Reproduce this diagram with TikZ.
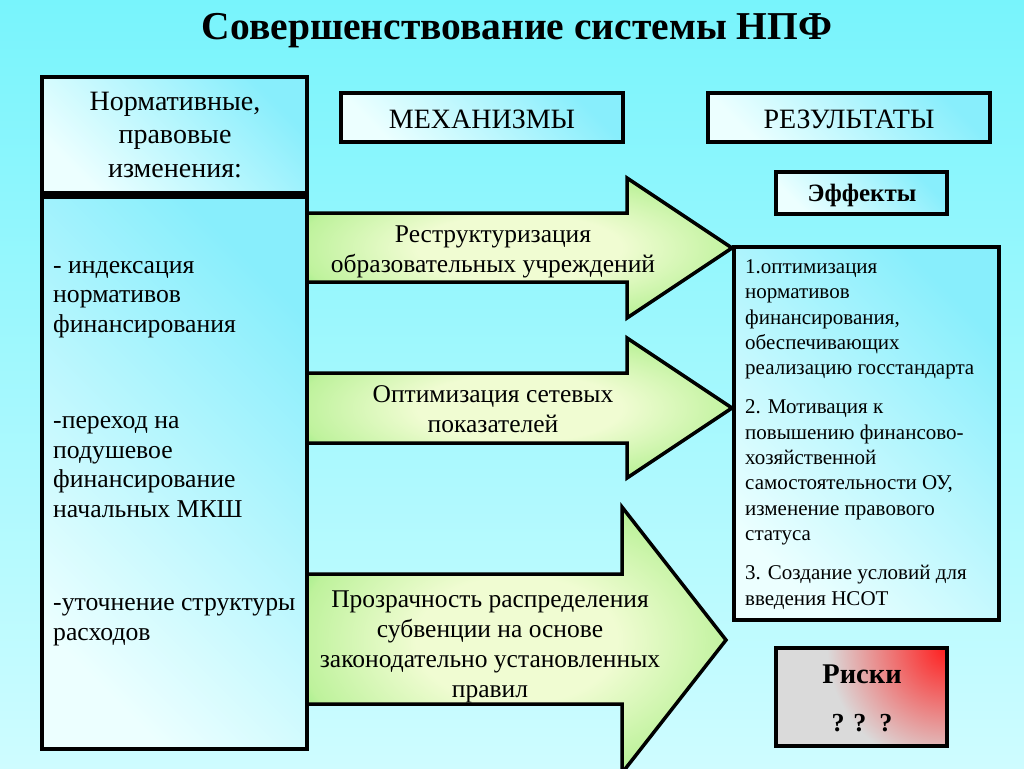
\documentclass[tikz,border=0pt]{standalone}
\usepackage{fontspec}
\setmainfont{Liberation Serif}
\usepackage{xcolor}

\definecolor{bgtop}{RGB}{120,244,252}
\definecolor{bgbot}{RGB}{206,252,255}
\definecolor{boxpale}{RGB}{236,255,255}
\definecolor{boxcyan}{RGB}{136,238,252}
\definecolor{arrpale}{RGB}{240,252,210}
\definecolor{arrmid}{RGB}{190,242,156}
\definecolor{arrgreen}{RGB}{84,228,84}
\definecolor{riskgray}{RGB}{218,218,218}
\definecolor{riskred}{RGB}{255,30,30}

\pgfdeclareradialshading{arrowglow}{\pgfpointorigin}{color(0bp)=(arrpale); color(12bp)=(arrpale); color(26bp)=(arrmid); color(36bp)=(arrgreen); color(50bp)=(arrgreen)}
\pgfdeclareradialshading{riskglow}{\pgfpointorigin}{color(0bp)=(riskred); color(15bp)=(riskgray); color(50bp)=(riskgray)}

\begin{document}
\begin{tikzpicture}[x=1pt,y=-1pt,
  frame/.style={draw=black,line width=3.5pt,left color=boxpale,right color=boxcyan,shading angle=135},
  arrowbody/.style={draw=black,line width=3.5pt,line join=miter,shade,shading=arrowglow},
  big/.style={font=\fontsize{25.5}{30}\selectfont,align=center,inner sep=0pt},
  small/.style={font=\fontsize{21}{25.3}\selectfont,align=left,inner sep=0pt}]
\useasboundingbox (0,0) rectangle (1024,768);
\shade[top color=bgtop,bottom color=bgbot] (0,0) rectangle (1024,768);

\node[font=\bfseries\fontsize{39.5}{46}\selectfont,anchor=base] (title) at (517,40) {Совершенствование системы НПФ};

% left column
\draw[frame] (42,77) rectangle (307,193);
\node[font=\fontsize{28}{33.5}\selectfont,align=center,inner sep=0pt,anchor=base] (norm) at (175,177)
  {Нормативные,\\правовые\\изменения:};

\draw[frame] (42,197) rectangle (307,749);
\node[font=\fontsize{25.7}{29.5}\selectfont,align=left,inner sep=0pt,anchor=base west] (changes) at (53,640)
  {- индексация\\нормативов\\финансирования\\[67pt]-переход на\\подушевое\\финансирование\\начальных МКШ\\[64pt]-уточнение структуры\\расходов};

% headers
\draw[frame] (341,93) rectangle (623,142);
\node[font=\fontsize{28}{32}\selectfont,inner sep=0pt,anchor=base] (mech) at (482,128) {МЕХАНИЗМЫ};
\draw[frame] (708,93) rectangle (990,142);
\node[font=\fontsize{28}{32}\selectfont,inner sep=0pt,anchor=base] (res) at (849,128) {РЕЗУЛЬТАТЫ};

% arrows
\draw[arrowbody] (307,213) -- (627,213) -- (627,178) -- (732,248) -- (627,318) -- (627,282) -- (307,282) -- cycle;
\node[big,anchor=base] (restr) at (493,272) {Реструктуризация\\образовательных учреждений};

\draw[arrowbody] (307,373) -- (627,373) -- (627,338) -- (732,408) -- (627,478) -- (627,443) -- (307,443) -- cycle;
\node[big,anchor=base] (optim) at (493,432) {Оптимизация сетевых\\показателей};

\draw[arrowbody] (307,574) -- (622,574) -- (622,507) -- (726,640) -- (622,773) -- (622,704) -- (307,704) -- cycle;
\node[big,anchor=base] (transp) at (490,697) {Прозрачность распределения\\субвенции на основе\\законодательно установленных\\правил};

% results
\draw[frame] (776,172) rectangle (947,214);
\node[font=\bfseries\fontsize{25}{28}\selectfont,anchor=base,inner sep=0pt] (eff) at (862,201) {Эффекты};

\draw[frame] (734,247) rectangle (999,620);
\node[small,anchor=base west] (efflist) at (745,605)
  {1.оптимизация\\нормативов\\финансирования,\\обеспечивающих\\реализацию госстандарта\\[14pt]2. Мотивация к\\повышению финансово-\\хозяйственной\\самостоятельности ОУ,\\изменение правового\\статуса\\[14pt]3. Создание условий для\\введения НСОТ};

\draw[draw=black,line width=3.5pt,fill=riskgray,
  path picture={\shade[shading=riskglow] (path picture bounding box.north east) circle (200pt);}]
  (776,648) rectangle (947,746);
\node[font=\bfseries\fontsize{28.5}{32}\selectfont,anchor=base,inner sep=0pt] (risk) at (862,683) {Риски};
\node[font=\bfseries\fontsize{26}{30}\selectfont,anchor=base,inner sep=0pt] (qq) at (862,731) {? ?\ \ ?};
\end{tikzpicture}
\end{document}
